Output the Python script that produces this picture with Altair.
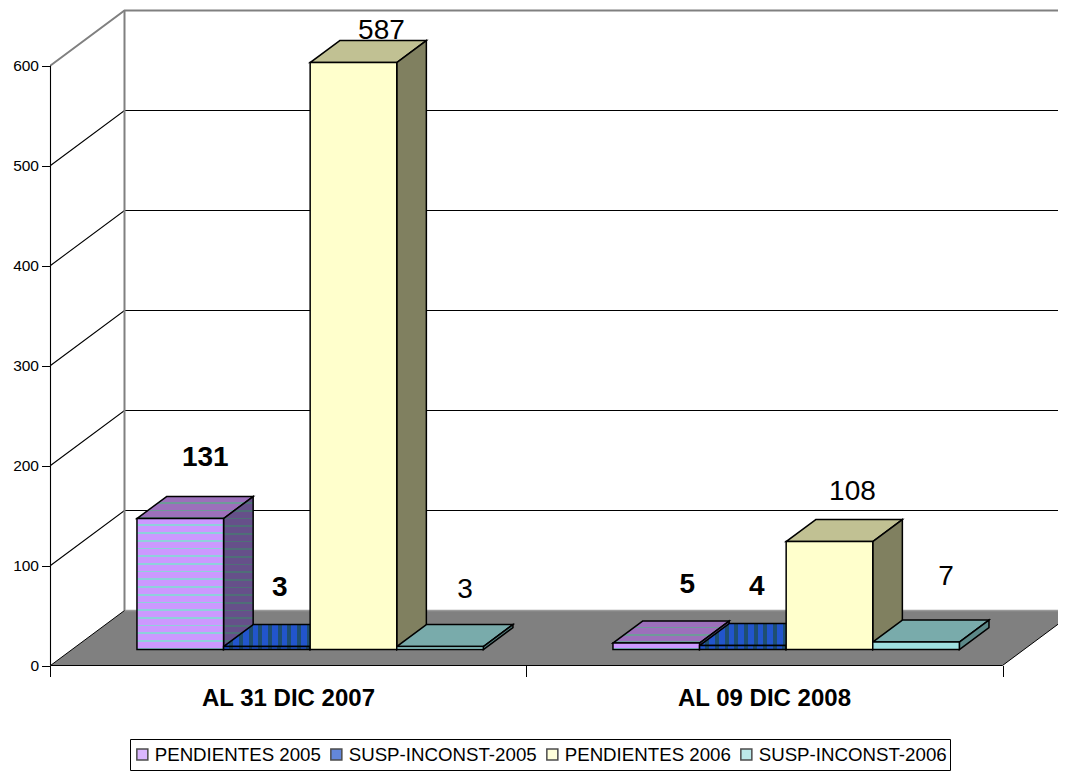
import altair as alt
import pandas as pd

# ---- data ----
categories = ["AL 31 DIC 2007", "AL 09 DIC 2008"]
series = ["PENDIENTES 2005", "SUSP-INCONST-2005", "PENDIENTES 2006", "SUSP-INCONST-2006"]
heights_2007 = [131, 3, 587, 3]
heights_2008 = [6.5, 4, 108, 7.5]
labels_2007 = ["131", "3", "587", "3"]
labels_2008 = ["5", "4", "108", "7"]
bold_labels = ["131", "3", "5", "4"]
y_ticks = [0, 100, 200, 300, 400, 500, 600]
x_ticks = [0, 1, 2]

# ---- projection of the fake 3D box, in category / value units ----
W, H = 1050, 763
CAT_PX = 476.0
X0_PX, Y0_PX = 50.5, 665.5
FLOOR_DX, FLOOR_DY = 74 / CAT_PX, 55.0     # full depth of the floor
FRONT = 0.29                                # depth where bars start
BACK = 0.69                                 # depth where bars end
GAP = 65 / CAT_PX
BAR = 86.6 / CAT_PX
xs = alt.Scale(domain=[(8 - X0_PX) / CAT_PX, (W + 8 - X0_PX) / CAT_PX], range=[0, W], nice=False, zero=False)
ys = alt.Scale(domain=[Y0_PX - (H + 8), Y0_PX - 8], range=[H, 0], nice=False, zero=False)


def P(u, v, d):
    return u + d * FLOOR_DX, v + d * FLOOR_DY


FONT = "Liberation Sans"
Xe = alt.X("x:Q", scale=xs, axis=alt.Axis(values=x_ticks, offset=-(H + 8 - Y0_PX), domain=False, grid=False,
                                          labels=False, tickSize=11, tickColor="black", tickWidth=1.0, title=None))
Ye = alt.Y("y:Q", scale=ys, axis=alt.Axis(values=y_ticks, offset=-(X0_PX - 8), domain=False, grid=False,
                                          tickSize=9, tickColor="black", tickWidth=1.0,
                                          labelFont=FONT, labelFontSize=15.5, labelColor="black",
                                          labelPadding=3, title=None, format="d"))


def stripes(base, stripe, length_px, period, width, vertical):
    n = max(1, int(round(length_px / period)))
    stops = []
    for i in range(n):
        cut = (i + 1 - width / period) / n
        stops += [
            {"offset": i / n, "color": base},
            {"offset": cut, "color": base},
            {"offset": cut, "color": stripe},
            {"offset": (i + 1) / n, "color": stripe},
        ]
    g = {"gradient": "linear", "stops": stops, "x1": 0, "y1": 0, "x2": 0, "y2": 1}
    if vertical:
        g.update({"x2": 1, "y2": 0})
    return g


def polyline(points, color, width=1.0):
    df = pd.DataFrame([{"x": x, "y": y, "o": i} for i, (x, y) in enumerate(points)])
    return alt.Chart(df).mark_line(color=color, strokeWidth=width, clip=True).encode(
        x=Xe, y=Ye, order="o:Q"
    )


layers = []

# walls
for v in y_ticks[1:]:
    color = "#808080" if v == 600 else "black"
    w = 2 if v == 600 else 1.1
    layers.append(polyline([P(0, v, 0), P(0, v, 1), P(2.2, v, 1)], color, w))
layers.append(polyline([P(0, 0, 1), P(0, 600, 1)], "#808080", 2))
layers.append(polyline([P(0, 0, 0), P(0, 600, 0)], "black", 1.1))

# floor
floor = pd.DataFrame({"y": [0.0, FLOOR_DY], "x": [0.0, FLOOR_DX], "x2": [2.0, 2 + FLOOR_DX]})
layers.append(alt.Chart(floor).mark_area(orient="horizontal", fill="#808080", clip=True).encode(
    y=Ye, x=Xe, x2="x2:Q"))
layers.append(polyline([(0, 0), (2, 0), (2 + FLOOR_DX, FLOOR_DY)], "black", 1.0))
layers.append(polyline([(FLOOR_DX, FLOOR_DY), (2 + FLOOR_DX, FLOOR_DY)], "#9a9a9a", 1.5))
layers.append(polyline([(0, 0), (FLOOR_DX, FLOOR_DY)], "black", 1.0))

# face colours: front, top, side, with optional stripes
FILLS = [
    {"front": ("#cc99ff", "#8fd0dc"), "top": ("#9c70bb", "#6f9a9a"), "side": ("#66508a", "#4f6f78"), "dir": "h", "period": 7.7, "w": 1.8},
    {"front": ("#2255cc", "#1f4f70"), "top": ("#2255cc", "#1f4f70"), "side": ("#1a4099", "#1a3a55"), "dir": "v", "period": 10.0, "w": 4.0},
    {"front": ("#ffffcc", None), "top": ("#c1c193", None), "side": ("#808060", None)},
    {"front": ("#a0e0e0", None), "top": ("#79abab", None), "side": ("#5c8888", None)},
]


def fill_for(s, face, h_px, w_px):
    base, st = FILLS[s][face]
    if st is None:
        return base
    if FILLS[s]["dir"] == "h":
        return stripes(base, st, h_px, FILLS[s]["period"], FILLS[s]["w"], False)
    return stripes(base, st, w_px, FILLS[s]["period"], FILLS[s]["w"], True)


bars = []
for c, hs in enumerate([heights_2007, heights_2008]):
    for s, h in enumerate(hs):
        left = c + GAP + s * BAR
        bars.append((s, left, left + BAR, h))

STROKE = dict(stroke="black", strokeWidth=1.5, clip=True)
depth_px_y = (BACK - FRONT) * FLOOR_DY
depth_px_x = (BACK - FRONT) * 74

# tops and sides first, fronts after
for s, l, r, h in bars:
    x1, y1 = P(l, h, FRONT)
    x2, _ = P(r, h, FRONT)
    x3, y3 = P(l, h, BACK)
    x4, _ = P(r, h, BACK)
    top = pd.DataFrame({"y": [y1, y3], "x": [x1, x3], "x2": [x2, x4]})
    layers.append(alt.Chart(top).mark_area(orient="horizontal", fill=fill_for(s, "top", depth_px_y, 86.6 + depth_px_x), **STROKE).encode(
        y=Ye, x=Xe, x2="x2:Q"))
    bx1, by1 = P(r, 0, FRONT)
    bx2, by2 = P(r, 0, BACK)
    side = pd.DataFrame({"x": [bx1, bx2], "y": [by1, by2], "y2": [by1 + h, by2 + h]})
    layers.append(alt.Chart(side).mark_area(orient="vertical", fill=fill_for(s, "side", h + depth_px_y, depth_px_x), **STROKE).encode(
        x=Xe, y=Ye, y2="y2:Q"))

for s, l, r, h in bars:
    x1, y1 = P(l, 0, FRONT)
    x2, _ = P(r, 0, FRONT)
    front = pd.DataFrame({"x": [x1], "x2": [x2], "y": [y1], "y2": [y1 + h]})
    layers.append(alt.Chart(front).mark_rect(fill=fill_for(s, "front", h, 86.6), **STROKE).encode(
        x=Xe, x2="x2:Q", y=Ye, y2="y2:Q"))

# data labels; nudges are the hand placement seen in the picture
nudges = [(25, -61), (13, -59), (28, -32), (25, -57), (31, -58), (14, -59), (23, -50), (30, -65)]
all_labels = labels_2007 + labels_2008
for (s, l, r, h), text, (dx, dy) in zip(bars, all_labels, nudges):
    x, y = P((l + r) / 2, h, FRONT)
    bold = text in bold_labels and s < 2
    df = pd.DataFrame({"x": [x], "y": [y], "t": [text]})
    layers.append(alt.Chart(df).mark_text(font=FONT, fontSize=28, fontWeight="bold" if bold else "normal", color="black",
                                          dx=dx, dy=dy, align="center", baseline="middle").encode(x=Xe, y=Ye, text="t:N"))

# category labels
cat_df = pd.DataFrame({"x": [0.5, 1.5], "y": [-33, -33], "t": categories})
layers.append(alt.Chart(cat_df).mark_text(font=FONT, fontSize=24, fontWeight="bold", color="black", align="center", baseline="middle").encode(
    x=Xe, y=Ye, text="t:N"))

# legend
legend_df = pd.DataFrame({"s": series, "x": [0, 0, 0, 0], "y": [0, 0, 0, 0]})
legend_layer = alt.Chart(legend_df).mark_point(filled=True, shape="square", size=0).encode(
    x=Xe, y=Ye,
    color=alt.Color("s:N", scale=alt.Scale(domain=series, range=["#cc99ff", "#2255cc", "#ffffcc", "#a0e0e0"]),
                    legend=alt.Legend(title=None, orient="none", legendX=122, legendY=731, direction="horizontal", columns=4,
                                      symbolType="square", symbolSize=121, symbolStrokeColor="black", symbolStrokeWidth=1.5,
                                      labelFont=FONT, labelFontSize=18.7, labelColor="black", labelLimit=300,
                                      clipHeight=25, columnPadding=6, symbolOffset=0, padding=3, strokeColor="black", labelOffset=3)),
)
layers.append(legend_layer)

chart = alt.layer(*layers).resolve_scale(x="shared", y="shared").properties(
    width=W, height=H, padding=0, autosize=alt.AutoSizeParams(type="none"), background="white"
).configure_view(stroke=None)

chart.save("out.html", embed_options={"renderer": "svg", "actions": False})
